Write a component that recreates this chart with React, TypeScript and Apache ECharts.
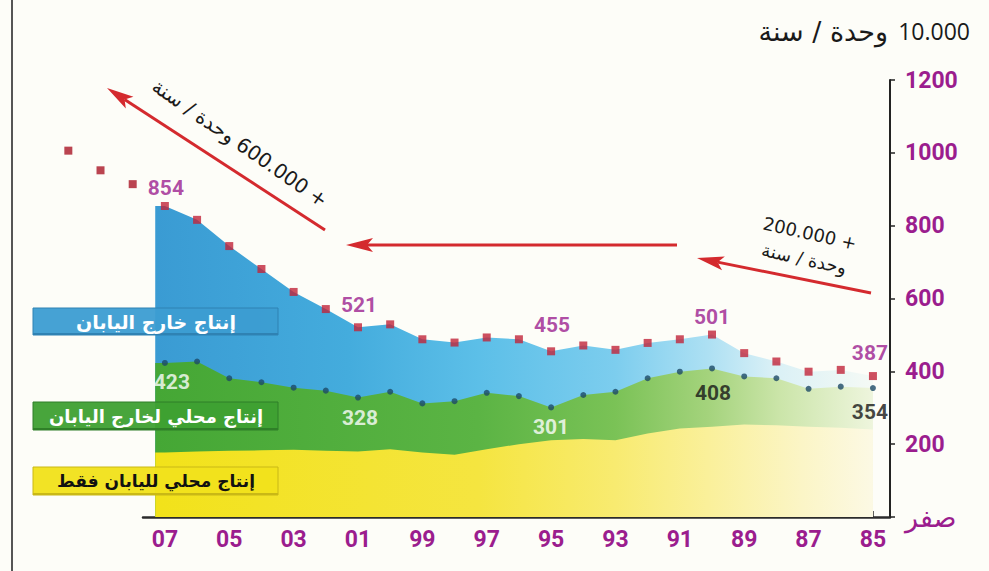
import React, { useEffect, useRef } from "react";
import * as echarts from "echarts";

// ---- data (units: 10,000 vehicles / year) ----
const years = [2007, 2006, 2005, 2004, 2003, 2002, 2001, 2000, 1999, 1998, 1997, 1996, 1995, 1994, 1993, 1992, 1991, 1990, 1989, 1988, 1987, 1986, 1985];
// total production (red squares)
const totalProduction = [854, 816, 744, 681, 618, 571, 521, 529, 488, 479, 493, 488, 455, 471, 459, 478, 488, 501, 450, 427, 399, 404, 387];
// production in Japan (dark dots)
const domesticProduction = [423, 427, 381, 370, 355, 347, 328, 344, 312, 318, 341, 332, 301, 335, 344, 381, 399, 408, 386, 381, 352, 358, 354];
// production in Japan for the Japanese market only (yellow)
const domesticForJapan = [177, 180, 182, 183, 185, 182, 180, 186, 177, 171, 186, 200, 211, 214, 211, 229, 243, 248, 254, 252, 248, 245, 240];
// projected totals (faded squares)
const projectionYears = [2008, 2009, 2010];
const projectionTotal = [914, 952, 1006];
// tick labels
const xLabelYears = [2007, 2005, 2003, 2001, 1999, 1997, 1995, 1993, 1991, 1989, 1987, 1985];
const labelledYears = [2007, 2001, 1995, 1990, 1985];
// the shaded areas begin a little before the first plotted year
const areaStartYear = 2007.3;

const PURPLE = "#9b1d8e";
const RED = "#c0243a";
const NAVY = "#1d4a66";
const BG = "#fdfdf8";
const NUM_FONT = "Roboto, sans-serif";

const totalLabelStyle: Record<number, any> = {
  2007: { offset: [1, -18] },
  2001: { offset: [1, -22] },
  1995: { offset: [1, -26] },
  1990: { offset: [0, -18] },
  1985: { offset: [-3, -23] },
};
const domesticLabelStyle: Record<number, any> = {
  2007: { offset: [7, 19], color: "#ffffff" },
  2001: { offset: [2, 20], color: "#ffffff" },
  1995: { offset: [0, 20], color: "#ffffff" },
  1990: { offset: [1, 25], color: "#151515" },
  1985: { offset: [-3, 24], color: "#151515" },
};

function grad(stops: [number, string][]) {
  return new echarts.graphic.LinearGradient(0, 0, 1, 0, stops.map(([offset, color]) => ({ offset, color })));
}

function arrow(x1: number, y1: number, x2: number, y2: number, color: string, headLen = 27, headW = 7) {
  const a = Math.atan2(y2 - y1, x2 - x1);
  const c = Math.cos(a), s = Math.sin(a);
  const bx = x2 - headLen * c, by = y2 - headLen * s;
  const px = -s, py = c;
  const nx = x2 - (headLen - 6) * c, ny = y2 - (headLen - 6) * s;
  return [
    { type: "line", shape: { x1, y1, x2: nx, y2: ny }, style: { stroke: color, lineWidth: 3 }, z: 50 },
    {
      type: "polygon",
      shape: { points: [[x2, y2], [bx + px * headW, by + py * headW], [nx, ny], [bx - px * headW, by - py * headW]] },
      style: { fill: color },
      z: 50,
    },
  ];
}

function txt(text: string, x: number, y: number, opts: any = {}) {
  const align = opts.align || "center";
  const valign = opts.valign || "middle";
  return {
    type: "text",
    x,
    y,
    rotation: opts.rotation || 0,
    z: 60,
    style: {
      text,
      fill: opts.fill || "#111",
      fontSize: opts.fontSize || 18,
      fontFamily: opts.fontFamily || "'DejaVu Sans', sans-serif",
      fontWeight: opts.fontWeight || "normal",
      align,
      textAlign: align,
      verticalAlign: valign,
      textVerticalAlign: valign,
      lineHeight: opts.lineHeight,
    },
  };
}

function legendBox(y: number, h: number, fill: string, edge: string, text: string, color: string, fontSize: number) {
  return [
    { type: "rect", shape: { x: 33, y, width: 245, height: h }, style: { fill, stroke: edge, lineWidth: 1 }, z: 40 },
    { type: "rect", shape: { x: 33, y: y + h - 2, width: 245, height: 2 }, style: { fill: edge }, z: 41 },
    txt(text, 156, y + h / 2, { fill: color, fontSize, fontWeight: "bold" }),
  ];
}

export default function App() {
  const ref = useRef<HTMLDivElement>(null);

  useEffect(() => {
    if (!ref.current) return;
    const chart = echarts.init(ref.current, null, { renderer: "svg" });

    // layered (non-stacked) areas: total behind, domestic in middle, domestic-for-Japan in front
    const withEdge = (vals: number[]) => [[areaStartYear, vals[0]], ...years.map((y, i) => [y, vals[i]])];
    const blueTop = withEdge(totalProduction);
    const greenTop = withEdge(domesticProduction);
    const yellowTop = withEdge(domesticForJapan);

    const labelBase = { show: true, position: "inside", fontSize: 21, fontWeight: "bold", fontFamily: NUM_FONT };

    const totalPoints = years.map((y, i) => {
      const item: any = { value: [y, totalProduction[i]] };
      if (labelledYears.includes(y)) {
        item.label = { ...labelBase, color: PURPLE, ...totalLabelStyle[y], formatter: String(totalProduction[i]) };
      }
      return item;
    });
    const domesticPoints = years.map((y, i) => {
      const item: any = { value: [y, domesticProduction[i]] };
      if (labelledYears.includes(y)) {
        item.label = { ...labelBase, ...domesticLabelStyle[y], formatter: String(domesticProduction[i]) };
      }
      return item;
    });

    const areaCommon = {
      type: "line",
      symbol: "none",
      showSymbol: false,
      lineStyle: { width: 0 },
      silent: true,
    };

    chart.setOption({
      animation: false,
      backgroundColor: BG,
      textStyle: { fontFamily: "Roboto, sans-serif" },
      grid: { left: 143, right: 99, top: 80, bottom: 54, containLabel: false },
      xAxis: {
        type: "value",
        inverse: true,
        min: 1984.47,
        max: 2007.68,
        position: "bottom",
        axisLine: { show: true, onZero: false, lineStyle: { color: "#2b2b2b", width: 2.5 } },
        axisTick: { show: true, inside: true, length: 6, customValues: years, lineStyle: { color: "#2b2b2b", width: 1.5 } },
        axisLabel: {
          customValues: xLabelYears,
          formatter: (v: number) => String(Math.round(v) % 100).padStart(2, "0"),
          color: PURPLE,
          fontSize: 23,
          fontWeight: "bold",
          fontFamily: "Roboto, sans-serif",
          margin: 11,
        },
        splitLine: { show: false },
      },
      yAxis: {
        type: "value",
        position: "right",
        min: 0,
        max: 1200,
        interval: 200,
        axisLine: { show: true, lineStyle: { color: "#222", width: 2 } },
        axisTick: { show: true, length: 5, lineStyle: { color: "#222", width: 1.5 } },
        axisLabel: {
          formatter: (v: number) => (v === 0 ? "{z|صفر}" : String(v)),
          color: PURPLE,
          fontSize: 23,
          fontWeight: "bold",
          fontFamily: "Roboto, sans-serif",
          margin: 15,
          rich: { z: { fontSize: 27, fontFamily: "'DejaVu Sans', sans-serif", fontWeight: "normal", color: PURPLE } },
        },
        splitLine: { show: false },
      },
      series: [
        {
          ...areaCommon,
          name: "overseas",
          z: 2,
          data: blueTop,
          areaStyle: {
            opacity: 1,
            color: grad([
              [0, "#3a9bd3"],
              [0.27, "#44acdd"],
              [0.45, "#5cbfe8"],
              [0.64, "#7ccdee"],
              [0.77, "#ade0f3"],
              [0.86, "#d9f0f6"],
              [1, "#f5faf5"],
            ]),
          },
        },
        {
          ...areaCommon,
          name: "domestic-export",
          z: 3,
          data: greenTop,
          areaStyle: {
            opacity: 1,
            color: grad([
              [0, "#45a735"],
              [0.45, "#5bb444"],
              [0.64, "#7ac256"],
              [0.77, "#a4d37c"],
              [0.87, "#cbe5a9"],
              [1, "#eef5dd"],
            ]),
          },
        },
        {
          ...areaCommon,
          name: "domestic-japan",
          z: 4,
          data: yellowTop,
          areaStyle: {
            opacity: 1,
            color: grad([
              [0, "#f2e21a"],
              [0.45, "#f5e540"],
              [0.64, "#f8eb70"],
              [0.77, "#faf09a"],
              [0.9, "#fbf5c6"],
              [1, "#fcf9e4"],
            ]),
          },
        },
        {
          type: "scatter",
          name: "total",
          symbol: "rect",
          symbolSize: 8,
          itemStyle: { color: RED },
          data: totalPoints,
          z: 10,
        },
        {
          type: "scatter",
          name: "projection",
          symbol: "rect",
          symbolSize: 8,
          clip: false,
          itemStyle: { color: "#b3303d", opacity: 0.9 },
          data: projectionYears.map((y, i) => [y, projectionTotal[i]]),
          z: 10,
        },
        {
          type: "scatter",
          name: "domestic",
          symbol: "circle",
          symbolSize: 6,
          itemStyle: { color: NAVY },
          data: domesticPoints,
          z: 10,
        },
      ],
      graphic: [
        { type: "line", shape: { x1: 12, y1: 0, x2: 12, y2: 571 }, style: { stroke: "#555", lineWidth: 2 }, z: 30 },
        txt("10.000", 970, 31, { align: "right", fontSize: 23, fontFamily: "'Open Sans', sans-serif", fill: "#1a1a1a" }),
        txt("وحدة / سنة", 888, 31, { align: "right", fontSize: 27, fill: "#1a1a1a" }),
        ...arrow(325, 230, 107, 88, "#d42a2e"),
        ...arrow(677, 245, 346, 245, "#d42a2e"),
        ...arrow(871, 293, 697, 258, "#d42a2e"),
        txt("وحدة / سنة\u200E 600.000 +", 240, 143, { rotation: -0.606, fontSize: 20, fill: "#1a1a1a" }),
        txt("200.000 +\nوحدة / سنة", 807, 246, { rotation: -0.22, fontSize: 18, fill: "#1a1a1a", lineHeight: 26 }),
        ...legendBox(308, 27, "rgba(60,157,210,0.95)", "#2f82b3", "إنتاج خارج اليابان", "#ffffff", 19),
        ...legendBox(402, 28, "rgba(62,160,50,0.95)", "#2f7f28", "إنتاج محلي لخارج اليابان", "#ffffff", 18),
        ...legendBox(467, 28, "rgba(241,226,28,0.96)", "#c9b816", "إنتاج محلي لليابان فقط", "#111111", 17),
      ],
    });

    return () => chart.dispose();
  }, []);

  return (
    <div style={{ position: "absolute", left: 0, top: 0, width: 989, height: 571, background: BG }}>
      <div ref={ref} style={{ width: 989, height: 571 }} />
    </div>
  );
}
